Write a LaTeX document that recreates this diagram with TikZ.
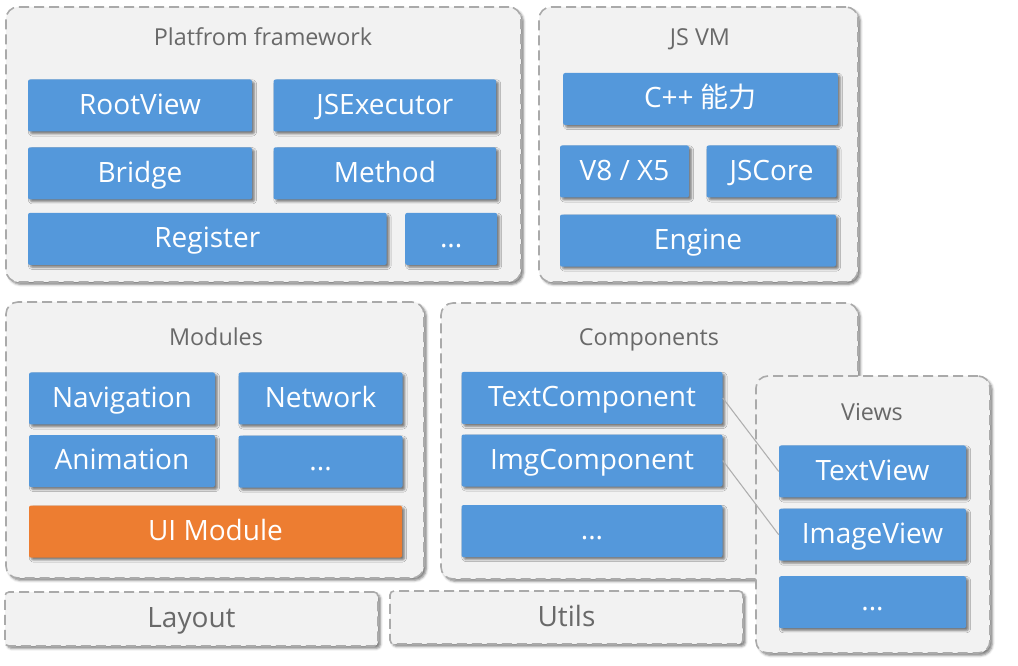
\documentclass[tikz,border=0pt]{standalone}
\usepackage{fontspec}
\setmainfont{Open Sans}
\newfontfamily\cjk{Noto Sans CJK SC}
\usetikzlibrary{positioning,shadows.blur}

\definecolor{boxblue}{RGB}{84,152,219}
\definecolor{uiorange}{RGB}{237,125,49}
\definecolor{panelfill}{RGB}{242,242,242}
\definecolor{paneledge}{RGB}{170,170,170}
\definecolor{titlegray}{RGB}{105,105,105}
\definecolor{linkgray}{RGB}{175,175,175}

\tikzset{
 panel/.style={rectangle,draw=paneledge,fill=panelfill,line width=1.2pt,dash pattern=on 7.5pt off 3.75pt,rounded corners=9pt,
   blur shadow={shadow xshift=1.8pt,shadow yshift=-1.8pt,shadow blur radius=1.8pt,shadow opacity=50}},
 bar/.style={panel,rounded corners=3pt,text=titlegray,font=\fontsize{21pt}{25pt}\selectfont,text height=15.1pt,text depth=2.1pt},
 ttl/.style={text=titlegray,font=\fontsize{17.5pt}{21pt}\selectfont,inner sep=0pt,text height=12.6pt,text depth=1.75pt},
 blk/.style={rectangle,fill=boxblue,text=white,rounded corners=1.5pt,minimum height=39pt,inner sep=0pt,
   font=\fontsize{21pt}{25pt}\selectfont,text height=15.1pt,text depth=2.1pt,
   blur shadow={shadow xshift=1.8pt,shadow yshift=-1.8pt,shadow blur radius=1.6pt,shadow opacity=50}}
}

\begin{document}
\begin{tikzpicture}[x=0.75pt,y=-0.75pt]
 \useasboundingbox (0,0) rectangle (1018,666);

 % Platform framework
 \node[panel,minimum width=386.25pt,minimum height=206.25pt] (platform) at (263.5,144.5) {};
 \node[ttl] (platformttl) at (263,38.5) {Platfrom framework};
 \node[blk,minimum width=168pt] (rootview) at (140,105.5) {RootView};
 \node[blk,minimum width=167pt] (jsexecutor) [right=15.75pt of rootview] {JSExecutor};
 \node[blk,minimum width=168pt] (bridge) [below=11.5pt of rootview] {Bridge};
 \node[blk,minimum width=167pt] (method) [below=11.5pt of jsexecutor] {Method};
 \node[blk,minimum width=269pt] (register) [below=9.75pt of bridge.south west,anchor=north west] {Register};
 \node[blk,minimum width=69pt] (platformmore) [right=13.5pt of register] {...};

 % JS VM
 \node[panel,minimum width=239.25pt,minimum height=206.25pt] (jsvm) at (698.5,144.5) {};
 \node[ttl] (jsvmttl) at (700,38.5) {JS VM};
 \node[blk,minimum width=206pt] (cpp) at (700.5,99) {C++ {\cjk 能力}};
 \node[blk,minimum width=96.75pt] (veight) at (624.5,171.5) {V8 / X5};
 \node[blk,minimum width=97.5pt] (jscore) [right=12.75pt of veight] {JSCore};
 \node[blk,minimum width=207pt] (engine) [below=12.4pt of veight.south west,anchor=north west] {Engine};

 % Modules
 \node[panel,minimum width=313.5pt,minimum height=207pt] (modules) at (215,440) {};
 \node[ttl] (modulesttl) at (216,338.5) {Modules};
 \node[blk,minimum width=139.5pt] (navigation) at (122,398.5) {Navigation};
 \node[blk,minimum width=123pt] (network) [right=17.25pt of navigation] {Network};
 \node[blk,minimum width=139.5pt] (animation) [below=7.5pt of navigation] {Animation};
 \node[blk,minimum width=123pt] (modulesmore) [below=8pt of network] {...};
 \node[blk,fill=uiorange,minimum width=279.75pt] (uimodule) [below=13.5pt of animation.south west,anchor=north west] {UI Module};

 % Components
 \node[panel,minimum width=312.75pt,minimum height=207pt] (components) at (649.5,441) {};
 \node[ttl] (componentsttl) at (649,338.5) {Components};
 \node[blk,minimum width=195.75pt] (textcomp) at (592,398) {TextComponent};
 \node[blk,minimum width=195.75pt] (imgcomp) [below=7.5pt of textcomp] {ImgComponent};
 \node[blk,minimum width=195.75pt] (compmore) [below=13.5pt of imgcomp] {...};

 % Layout, Utils
 \node[bar,minimum width=279.75pt,minimum height=40.5pt] (layout) at (191.5,619) {Layout};
 \node[bar,minimum width=264.75pt,minimum height=39.75pt] (utils) at (566.5,617.5) {Utils};

 % Views
 \node[panel,minimum width=175.5pt,minimum height=207.75pt] (views) at (873,514.5) {};
 \node[ttl] (viewsttl) at (872,413) {Views};
 \node[blk,minimum width=140.25pt] (textview) at (872.5,471.5) {TextView};
 \node[blk,minimum width=140.25pt] (imageview) [below=8pt of textview] {ImageView};
 \node[blk,minimum width=140.25pt] (viewsmore) [below=11.25pt of imageview] {...};

 \path[draw,linkgray,line width=0.8pt] (textcomp.east) edge (textview.west);
 \path[draw,linkgray,line width=0.8pt] (imgcomp.east) edge (imageview.west);
\end{tikzpicture}
\end{document}
